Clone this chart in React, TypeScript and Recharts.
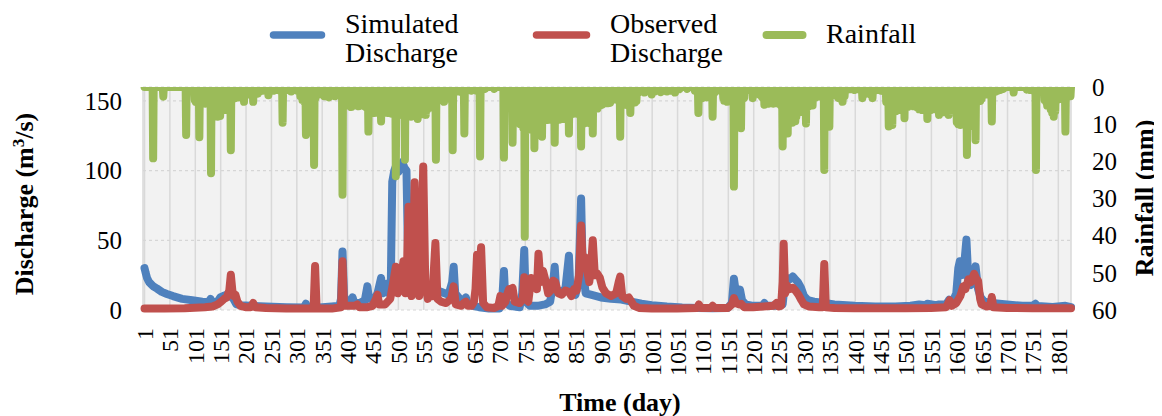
import React from 'react';
import { LineChart, Line, XAxis, YAxis, CartesianGrid, Legend } from 'recharts';

const TOTAL_DAYS = 1826;
const dayTicks = [1, 51, 101, 151, 201, 251, 301, 351, 401, 451, 501, 551, 601, 651, 701, 751, 801, 851, 901, 951, 1001, 1051, 1101, 1151, 1201, 1251, 1301, 1351, 1401, 1451, 1501, 1551, 1601, 1651, 1701, 1751, 1801];
const dischargeTicks = [0, 50, 100, 150];
const rainTicks = [0, 10, 20, 30, 40, 50, 60];

// [day, rainfall mm]
const rainEvents: [number, number][] = [
  [18, 19.2], [38, 2.6], [83, 12.9],
  [100, 3.5], [102, 4], [104, 3], [106, 4.3], [109, 13.5], [111, 4], [113, 3.5], [116, 4.2], [119, 3.8], [121, 4.5], [124, 4], [127, 3.6], [129, 4.4],
  [132, 23.2], [135, 5], [138, 6.5], [140, 7.5], [142, 7], [145, 8], [147, 7.2], [150, 7.8], [152, 6.5], [155, 6], [157, 5.5], [160, 6.2], [162, 5.8], [165, 5], [168, 4.5],
  [171, 17], [174, 3], [177, 2.5], [180, 3], [183, 2.2], [186, 2.8], [189, 2], [192, 2], [197, 4], [200, 1.8], [204, 2], [208, 1.5], [212, 2], [215, 4], [219, 1.5],
  [224, 1.8], [228, 1.2], [234, 1], [240, 0.8], [245, 2.2], [250, 0.8], [256, 1], [262, 0.8], [268, 1], [273, 9.6], [278, 1], [284, 0.8], [290, 1.2], [296, 0.8],
  [302, 1], [308, 2.5], [312, 3.5], [316, 4], [319, 12.9], [322, 4.5], [325, 3.8], [328, 4.2], [331, 3], [335, 21], [338, 3], [342, 2], [346, 1.5], [350, 2],
  [355, 2.5], [360, 2.2], [364, 2.8], [368, 2.2],
  [372, 2], [376, 2.5], [380, 2], [384, 2.2], [388, 2], [391, 29], [395, 3], [399, 4.5], [402, 5], [405, 4.2], [408, 5.4], [411, 4.8], [414, 4.5], [417, 5],
  [420, 4.6], [423, 5.2], [426, 4.8], [429, 5], [432, 4.6], [435, 5.2], [438, 5.5], [442, 12], [445, 6.5], [448, 7], [451, 6.6], [454, 7], [457, 6.8], [460, 6.5],
  [464, 7], [467, 9.3], [470, 6.8], [473, 7], [476, 6.6], [480, 7], [484, 6.8], [488, 7.2], [492, 7], [496, 24], [499, 7.5], [502, 7], [505, 7.5], [508, 7.2],
  [511, 7], [514, 19.6], [517, 7.5], [520, 7], [523, 7.6], [526, 8], [529, 7.5], [532, 7.8], [535, 7.2], [539, 8.6], [542, 7], [545, 7.4], [548, 7], [551, 7.2],
  [555, 7.5], [558, 6], [561, 5.5], [564, 5], [567, 5.5], [570, 4.8], [575, 19.6], [578, 3.5], [581, 3.2], [584, 3.5], [587, 3], [591, 4], [594, 3], [597, 3.2],
  [600, 2.8], [604, 3], [608, 17], [611, 1.5], [615, 1], [619, 1.2], [623, 1], [627, 1.5], [631, 12.5], [635, 1], [640, 0.8], [645, 1], [650, 0.8], [655, 1],
  [662, 18.7], [666, 0.8], [672, 0.5], [690, 0.5], [709, 19], [713, 2.5], [716, 3], [719, 3.2], [722, 2.8], [726, 15],
  [729, 9], [732, 9.5], [735, 8.8], [738, 9.6], [741, 10], [744, 9.2], [747, 11], [750, 40.3], [753, 11], [756, 11.5], [759, 10.8], [762, 11.2], [765, 10.5],
  [769, 16.5], [772, 11.5], [775, 12], [778, 11], [781, 11.5], [784, 13.4], [787, 8.8], [790, 8.5], [793, 8.9], [796, 8.6], [799, 8.8], [802, 8.5], [805, 8.7],
  [809, 15], [812, 8.6], [815, 8.4], [818, 8.8], [821, 8.5], [824, 8.2], [827, 8.6], [830, 8], [833, 8.3], [837, 12.5], [840, 7.5], [843, 6.8], [846, 7.2],
  [849, 6.5], [852, 7], [855, 6.8], [858, 7.5], [861, 16], [864, 9.5], [867, 9.8], [870, 9.2], [873, 9.6], [876, 9.4], [879, 9.8], [884, 12.5], [887, 6],
  [890, 5.5], [893, 5.8], [896, 5.2], [899, 5], [902, 4.8], [906, 4.5], [910, 4.2], [914, 4.4], [918, 4.3], [922, 3.5], [926, 3.2], [930, 3.4], [934, 3],
  [938, 13.4], [941, 4], [944, 4.5], [947, 4.2], [950, 4.8], [954, 5], [958, 7], [961, 4.5], [964, 4], [967, 4.2], [970, 3.8], [974, 1.5], [980, 1.2],
  [986, 1.5], [992, 1], [1000, 2], [1006, 1.2], [1012, 1], [1018, 1.4], [1024, 1], [1030, 1.2], [1037, 1], [1046, 1.5], [1055, 0.6], [1070, 0.5], [1085, 1],
  [1092, 7], [1097, 2.8], [1100, 3], [1104, 2.5], [1108, 2.8], [1112, 2.5], [1116, 2], [1120, 8], [1124, 1.5], [1128, 1], [1133, 0.8], [1138, 1.2], [1141, 3],
  [1143, 3.7], [1146, 3.5], [1149, 4], [1152, 3.6], [1155, 3.8], [1158, 3.5], [1162, 26.8], [1165, 3.5], [1168, 3.2], [1171, 3.4], [1174, 3], [1176, 11.1],
  [1179, 3.2], [1182, 3], [1186, 1], [1190, 0.8], [1196, 0.6], [1199, 3], [1203, 0.8], [1208, 1.5], [1212, 2], [1216, 2.5], [1219, 3], [1222, 4.8], [1225, 3.5],
  [1228, 4], [1231, 4.5], [1234, 3.8], [1237, 4.2], [1240, 4.5], [1243, 4], [1246, 4.4], [1249, 4.2], [1252, 4.6], [1255, 5], [1258, 16], [1261, 6], [1264, 7],
  [1268, 12.5], [1271, 8.5], [1274, 9], [1277, 9.6], [1280, 8.8], [1283, 9.2], [1285, 8], [1288, 6.5], [1291, 6.8], [1294, 6.2], [1297, 6.5], [1300, 6],
  [1304, 9.8], [1307, 5], [1310, 5.2], [1313, 4.8], [1317, 5], [1320, 2.5], [1324, 2.8], [1328, 2.5], [1332, 2.6], [1336, 2.4], [1340, 22.3], [1343, 3],
  [1346, 10.5], [1350, 10.7], [1353, 1.5], [1357, 1.2], [1361, 1.5], [1365, 2.5], [1368, 3], [1372, 3.2], [1376, 4], [1380, 2.5], [1385, 0.8], [1392, 0.6],
  [1400, 0.8], [1408, 0.6], [1415, 3], [1419, 1.5], [1423, 1.8], [1427, 1.5], [1431, 2], [1435, 3], [1440, 1], [1446, 0.8], [1452, 1], [1458, 1.2], [1462, 4],
  [1467, 10.6], [1471, 6.5], [1474, 10.2], [1478, 6], [1481, 6.5], [1484, 5.8], [1487, 6.2], [1490, 5.5], [1494, 5.8], [1498, 8.4], [1501, 5], [1504, 5.4],
  [1507, 4.6], [1510, 5], [1513, 4.4], [1516, 5.2], [1519, 4.8], [1523, 5.5], [1527, 6], [1530, 5.8], [1533, 6.2], [1536, 5.5], [1539, 6], [1543, 8.6],
  [1546, 5.6], [1549, 6.2], [1552, 5.8], [1555, 6], [1558, 5.4], [1562, 6], [1566, 7.5], [1569, 6.2], [1572, 6.5], [1575, 6.8], [1578, 6.4], [1581, 6],
  [1585, 7.5], [1588, 4.5], [1591, 4.2], [1594, 4.8], [1597, 5], [1601, 9.5], [1604, 10], [1608, 10.2], [1611, 9.8], [1614, 9.5], [1617, 10], [1621, 18.3],
  [1624, 8], [1627, 9], [1630, 10.5], [1633, 8.5], [1638, 14.3], [1641, 4], [1644, 3.5], [1647, 3.8], [1650, 3.2], [1653, 2], [1657, 1.8], [1661, 2],
  [1665, 1.5], [1670, 9.3], [1674, 1.5], [1678, 1.2], [1682, 1], [1687, 0.8], [1693, 0.5], [1713, 1.5], [1739, 0.7], [1746, 0.8], [1752, 1], [1757, 22.3],
  [1762, 1], [1768, 0.8], [1774, 3.5], [1777, 4], [1779, 5], [1782, 4.5], [1786, 6], [1789, 7], [1792, 8], [1795, 6.5], [1799, 3.5], [1803, 3], [1807, 3.2],
  [1811, 3], [1815, 12], [1819, 2.5], [1822, 2], [1825, 2.5],
];

// [day, simulated discharge m3/s]
const simulatedPoints: [number, number][] = [
  [1, 30], [3, 27], [6, 23], [10, 20], [18, 17], [25, 15.5], [35, 13], [45, 11.5], [57, 10], [75, 8], [95, 7], [115, 6], [128, 5.5], [131, 8], [134, 5.5],
  [145, 6], [150, 9], [156, 10], [163, 11], [170, 10], [176, 8], [182, 4], [190, 3.5], [210, 3], [240, 2.5], [280, 2], [315, 1.8], [319, 4.5], [322, 2],
  [345, 1.8], [370, 2.5], [385, 3], [388, 8], [391, 42], [394, 10], [400, 6], [408, 5], [411, 9], [414, 5], [425, 5], [435, 7], [440, 17], [443, 8],
  [455, 9], [460, 12], [467, 23], [470, 12], [476, 13], [480, 19], [483, 12], [486, 16], [489, 92], [493, 100], [497, 104], [501, 99], [505, 103],
  [509, 106], [513, 102], [517, 100], [520, 40], [523, 24], [530, 22], [540, 21], [550, 19], [560, 16], [570, 15], [585, 13], [600, 11], [607, 20],
  [610, 31], [613, 12], [622, 8], [630, 7], [634, 9], [637, 5], [648, 3], [660, 2], [680, 1], [700, 1], [706, 10], [709, 28], [712, 6], [720, 3],
  [740, 2], [745, 12], [749, 43], [752, 6], [760, 3], [775, 3], [790, 4], [800, 6], [806, 20], [809, 31], [812, 14], [820, 13], [830, 15], [837, 39],
  [840, 14], [850, 11], [856, 20], [861, 80], [864, 30], [870, 12], [880, 11], [900, 9], [920, 8], [940, 7.5], [960, 6], [980, 4.5], [1000, 3.5],
  [1030, 2.5], [1060, 1.8], [1090, 1.5], [1120, 1.2], [1150, 1.5], [1158, 5], [1162, 22.5], [1166, 12], [1171, 10], [1174, 14.6], [1178, 7], [1185, 4],
  [1200, 3], [1218, 3], [1222, 5], [1226, 3], [1250, 3], [1258, 4], [1262, 18], [1266, 23], [1272, 22], [1278, 24], [1283, 22], [1288, 20], [1294, 16],
  [1300, 10], [1308, 7], [1320, 6], [1340, 5], [1360, 4], [1400, 3], [1440, 2.5], [1480, 2.5], [1510, 3], [1527, 4], [1540, 3.5], [1543, 4.5],
  [1560, 3.5], [1566, 4], [1580, 4], [1586, 7.4], [1592, 5], [1600, 12], [1604, 30], [1607, 35], [1611, 25], [1615, 30], [1620, 50.5], [1624, 20],
  [1629, 18], [1634, 22], [1638, 31.3], [1643, 15], [1648, 9], [1655, 6], [1670, 5], [1700, 4], [1730, 3], [1750, 3], [1756, 4.5], [1760, 2.8],
  [1790, 2.2], [1815, 3], [1826, 2],
];

// [day, observed discharge m3/s]
const observedPoints: [number, number][] = [
  [1, 1], [40, 1], [80, 1.2], [120, 2], [135, 2.5], [145, 4], [152, 6], [158, 8], [163, 9], [168, 14], [171, 25.3], [174, 14], [177, 10], [180, 11],
  [184, 6], [190, 3], [200, 2], [210, 2], [215, 5], [219, 2], [240, 1.5], [280, 1], [320, 1], [334, 1], [337, 31.5], [340, 1], [370, 1], [388, 2],
  [391, 35], [394, 3], [405, 3], [415, 3], [420, 4], [424, 2], [440, 2], [450, 3], [457, 8], [460, 11], [463, 4], [475, 4], [485, 8], [491, 20],
  [496, 31], [500, 12], [505, 18], [511, 35], [515, 12], [518, 30], [521, 74], [524, 15], [527, 10], [530, 25], [533, 91.6], [537, 20], [542, 10],
  [546, 40], [550, 103], [554, 20], [559, 8], [563, 12], [568, 10], [574, 48], [578, 8], [585, 6], [595, 5], [605, 8], [610, 17], [614, 4], [625, 3],
  [630, 5], [634, 6], [638, 3], [645, 3], [650, 6], [653, 15], [656, 39.7], [659, 20], [664, 45], [668, 5], [675, 2], [690, 1.5], [698, 3], [702, 10],
  [705, 3], [712, 6], [716, 12], [719, 15], [722, 15], [726, 15.8], [730, 6], [740, 5], [746, 8], [749, 23.5], [752, 8], [757, 6], [760, 15], [763, 23],
  [767, 18], [771, 20], [774, 15], [777, 40.4], [781, 20], [786, 28], [791, 21], [796, 12], [801, 14], [806, 21], [810, 20], [816, 12], [823, 11],
  [830, 14], [837, 13], [842, 10], [847, 15], [852, 14], [857, 25], [861, 60.7], [864, 35], [868, 38], [872, 30], [877, 20], [880, 28], [884, 50],
  [888, 25], [893, 26], [898, 23], [903, 16], [910, 12], [920, 10], [930, 12], [935, 20], [938, 24], [942, 10], [950, 8], [955, 9], [960, 6], [965, 3],
  [975, 1.5], [1000, 1], [1050, 1], [1090, 1.5], [1093, 4], [1097, 1.5], [1117, 1.5], [1120, 3], [1124, 1.5], [1150, 1.5], [1158, 4], [1162, 8.6],
  [1166, 5], [1172, 4], [1176, 4.5], [1182, 2], [1200, 2], [1220, 2.5], [1240, 3], [1246, 5], [1250, 2.5], [1255, 3], [1258, 20], [1260, 47.6],
  [1263, 12], [1267, 17.5], [1272, 15], [1278, 16], [1283, 14], [1289, 11], [1295, 7], [1300, 4], [1310, 2.5], [1330, 2], [1337, 2], [1340, 33],
  [1343, 2], [1360, 1.5], [1400, 1.2], [1450, 1.2], [1500, 1.3], [1550, 1.5], [1580, 2], [1587, 7], [1591, 3], [1600, 5], [1608, 10], [1614, 17],
  [1618, 15], [1624, 22], [1629, 20], [1635, 26], [1640, 22], [1643, 21], [1647, 8], [1650, 4], [1660, 2.5], [1667, 3], [1670, 9.3], [1673, 2],
  [1700, 1.5], [1750, 1.3], [1800, 1.3], [1826, 1.2],
];

const BLUE = '#4F81BD';
const RED = '#C0504D';
const GREEN = '#9BBB59';
const FONT = '"Liberation Serif", "Times New Roman", serif';

const rainData = Array.from({ length: TOTAL_DAYS }, (_, i) => ({ day: i + 1, rain: 0 }));
rainEvents.forEach(([d, v]) => {
  rainData[d - 1].rain = v;
});
const simData = simulatedPoints.map(([day, q]) => ({ day, q }));
const obsData = observedPoints.map(([day, q]) => ({ day, q }));

const DayTick = (props: any) => {
  const { x, payload } = props;
  const y = 320;
  return (
    <text x={x} y={y} transform={`rotate(-90, ${x}, ${y})`} textAnchor="end" dy="0.35em" fontFamily={FONT} fontSize={24} fill="#000">
      {payload.value}
    </text>
  );
};

const LeftTick = (props: any) => {
  const { y, payload } = props;
  return (
    <text x={114} y={y} textAnchor="end" dy="0.35em" fontFamily={FONT} fontSize={25} fill="#000">
      {payload.value}
    </text>
  );
};

const RightTick = (props: any) => {
  const { y, payload } = props;
  return (
    <text x={1084} y={y} textAnchor="start" dy="0.35em" fontFamily={FONT} fontSize={25} fill="#000">
      {payload.value}
    </text>
  );
};

const LeftTitle = () => (
  <text x={25} y={196} transform="rotate(-90, 25, 196)" textAnchor="middle" fontFamily={FONT} fontSize={26} fontWeight="bold" fill="#000">
    Discharge (m<tspan dy={-9} fontSize={17}>3</tspan>
    <tspan dy={9} fontSize={26}>/s)</tspan>
  </text>
);

const RightTitle = () => (
  <text x={1145} y={190} transform="rotate(-90, 1145, 190)" textAnchor="middle" fontFamily={FONT} fontSize={26} fontWeight="bold" fill="#000">
    Rainfall (mm)
  </text>
);

const BottomTitle = () => (
  <text x={612} y={403} textAnchor="middle" fontFamily={FONT} fontSize={26} fontWeight="bold" fill="#000">
    Time (day)
  </text>
);

const LegendContent = () => (
  <svg width={1154} height={70} style={{ display: 'block' }}>
    <g fontFamily={FONT} fontSize={28} fill="#000">
      <line x1={265.5} y1={27} x2={313.5} y2={27} stroke={BLUE} strokeWidth={7.5} strokeLinecap="round" />
      <text x={337} y={25}>Simulated</text>
      <text x={337} y={54}>Discharge</text>
      <line x1={528.5} y1={27} x2={578.5} y2={27} stroke={RED} strokeWidth={7.5} strokeLinecap="round" />
      <text x={602} y={25}>Observed</text>
      <text x={602} y={54}>Discharge</text>
      <line x1={758.5} y1={27} x2={794.5} y2={27} stroke={GREEN} strokeWidth={8} strokeLinecap="round" />
      <text x={818} y={35}>Rainfall</text>
    </g>
  </svg>
);

export default function App() {
  return (
    <div style={{ width: 1154, height: 408 }}>
      <LineChart width={1154} height={408} margin={{ top: 79, right: 0, bottom: 0, left: 0 }}>
        <CartesianGrid yAxisId="q" vertical={true} horizontal={false} fill="#f2f2f2" stroke="#d9d9d9" strokeWidth={1.5} />
        <CartesianGrid yAxisId="q" vertical={false} horizontal={true} stroke="#d6d6d6" strokeDasharray="3 3" strokeWidth={1.2} />
        <XAxis
          type="number"
          dataKey="day"
          domain={[-2, 1826]}
          ticks={dayTicks}
          interval={0}
          tick={<DayTick />}
          tickLine={false}
          axisLine={false}
          height={106}
          label={<BottomTitle />}
        />
        <YAxis
          yAxisId="q"
          type="number"
          domain={[0, 160]}
          ticks={dischargeTicks}
          interval={0}
          tick={<LeftTick />}
          tickLine={false}
          axisLine={false}
          width={135}
          label={<LeftTitle />}
        />
        <YAxis
          yAxisId="r"
          orientation="right"
          type="number"
          domain={[0, 60]}
          reversed
          allowDataOverflow
          ticks={rainTicks}
          interval={0}
          tick={<RightTick />}
          tickLine={false}
          axisLine={false}
          width={91}
          label={<RightTitle />}
        />
        <Legend layout="vertical" align="center" verticalAlign="middle" wrapperStyle={{ top: 0, left: 0, width: 1154, height: 70 }} content={() => <LegendContent />} />
        <Line data={simData} yAxisId="q" dataKey="q" name="Simulated Discharge" type="linear" stroke={BLUE} strokeWidth={8} strokeLinejoin="round" strokeLinecap="round" dot={false} activeDot={false} isAnimationActive={false} />
        <Line data={obsData} yAxisId="q" dataKey="q" name="Observed Discharge" type="linear" stroke={RED} strokeWidth={8} strokeLinejoin="round" strokeLinecap="round" dot={false} activeDot={false} isAnimationActive={false} />
        <Line data={rainData} yAxisId="r" dataKey="rain" name="Rainfall" type="linear" stroke={GREEN} strokeWidth={8} strokeLinejoin="round" strokeLinecap="round" dot={false} activeDot={false} isAnimationActive={false} />
      </LineChart>
    </div>
  );
}
